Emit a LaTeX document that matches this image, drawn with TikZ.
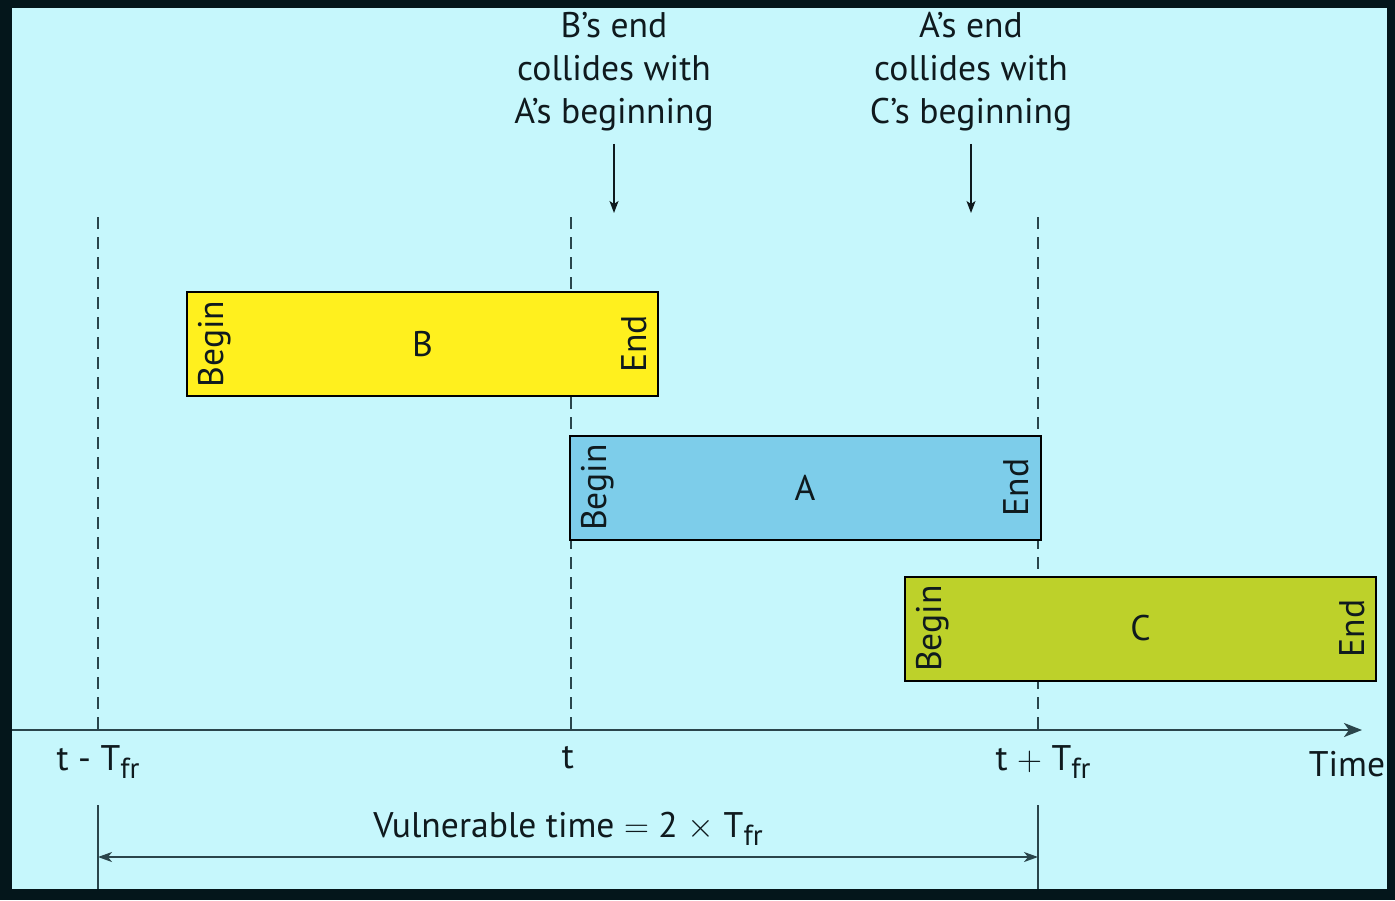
\documentclass[tikz,border=0pt]{standalone}
\usepackage{fontspec}
\setmainfont{PT Sans}
\usepackage{tikz}
\usetikzlibrary{positioning}
\usetikzlibrary{arrows.meta}
\usepackage{xcolor}
\definecolor{frameDark}{HTML}{04161B}
\definecolor{bgCyan}{HTML}{C6F7FC}
\definecolor{boxYellow}{HTML}{FFF01E}
\definecolor{boxBlue}{HTML}{7DCDEA}
\definecolor{boxGreen}{HTML}{BDD12A}
\definecolor{lineGray}{HTML}{2A454B}
\definecolor{inkDark}{HTML}{0F1A1E}
\newcommand{\Tfr}{T\raisebox{-0.5ex}{\fontsize{14.5}{14.5}\selectfont fr}}

\begin{document}
\begin{tikzpicture}[x=0.5pt, y=-0.5pt, font=\fontsize{17.8}{21.5}\selectfont, text=inkDark,
    frame/.style={draw=black, line width=1pt, minimum width=235.5pt, minimum height=52pt, inner sep=0pt},
    tag/.style={rotate=90, inner sep=6pt},
    guide/.style={draw=lineGray, line width=1pt, dash pattern=on 6pt off 4pt},
    bound/.style={draw=lineGray, line width=1pt},
    axis/.style={draw=lineGray, line width=1.3pt, -{Stealth[length=9pt, width=7pt, inset=2.5pt]}},
    pointer/.style={draw=inkDark, line width=0.7pt, -{Stealth[length=6pt, width=4.5pt, inset=1.5pt]}},
    span/.style={draw=lineGray, line width=0.8pt, {Stealth[length=7pt, width=5pt, inset=2pt]}-{Stealth[length=7pt, width=5pt, inset=2pt]}},
    note/.style={align=center, inner sep=3pt}]

    % Frame and background
    \fill[frameDark] (0,0) rectangle (1395,900);
    \fill[bgCyan] (12,8) rectangle (1387,889);

    % Time marks
    \coordinate (topL) at (98,217);
    \coordinate (topM) at (571,217);
    \coordinate (topR) at (1038,217);
    \coordinate (axL) at (12,730);
    \coordinate (axR) at (1362,730);
    \coordinate (markL) at (98,730);
    \coordinate (markM) at (571,730);
    \coordinate (markR) at (1038,730);
    \draw[guide] (topL) -- (markL);
    \draw[guide] (topM) -- (markM);
    \draw[guide] (topR) -- (markR);

    % Frames
    \node[frame, fill=boxYellow] (B) at (422.5,344) {B};
    \node[frame, fill=boxBlue] (A) at (805,487.5) {A};
    \node[frame, fill=boxGreen] (C) at (1140.5,628.5) {C};
    \node[tag, anchor=north] (beginB) at (B.west) {Begin};
    \node[tag, anchor=south] (endB) at (B.east) {End};
    \node[tag, anchor=north] (beginA) at (A.west) {Begin};
    \node[tag, anchor=south] (endA) at (A.east) {End};
    \node[tag, anchor=north] (beginC) at (C.west) {Begin};
    \node[tag, anchor=south] (endC) at (C.east) {End};

    % Axis
    \draw[axis] (axL) -- (axR);
    \node[anchor=base] (lblL) at (98,770) {t - \Tfr};
    \node[anchor=base] (lblM) at (568,768) {t};
    \node[anchor=base] (lblR) at (1043,770) {t $+$ \Tfr};
    \node[anchor=base] (lblTime) at (1347,776) {Time};

    % Vulnerable time
    \coordinate (spanL) at (98,805);
    \coordinate (spanR) at (1038,805);
    \coordinate (baseL) at (98,889);
    \coordinate (baseR) at (1038,889);
    \draw[bound] (spanL) -- (baseL);
    \draw[bound] (spanR) -- (baseR);
    \coordinate (arrL) at (98,857);
    \coordinate (arrR) at (1038,857);
    \draw[span] (arrL) -- (arrR);
    \node[anchor=base] (vuln) at (568,837) {Vulnerable time $=$ 2 $\times$ \Tfr};

    % Collisions
    \node[note] (noteB) at (614,72) {B's end\\collides with\\A's beginning};
    \node[note] (noteC) at (971,72) {A's end\\collides with\\C's beginning};
    \coordinate (hitB) at (614,213);
    \coordinate (hitC) at (971,213);
    \draw[pointer, shorten <=3pt] (noteB.south) -- (hitB);
    \draw[pointer, shorten <=3pt] (noteC.south) -- (hitC);
\end{tikzpicture}
\end{document}
